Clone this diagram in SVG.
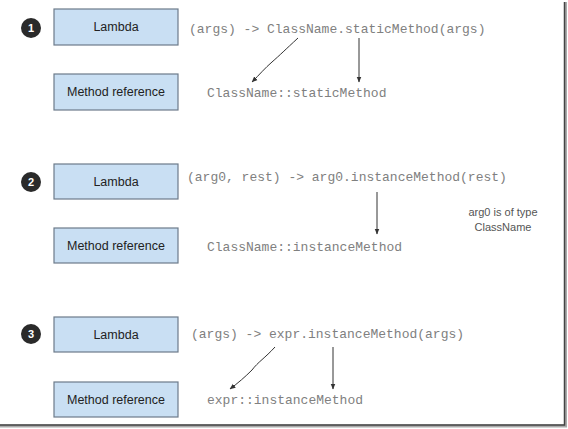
<svg xmlns="http://www.w3.org/2000/svg" width="568" height="429" viewBox="0 0 568 429">
<defs>
<style>
.box{fill:#c9dff3;stroke:#6d7b8a;stroke-width:1.2}
.lbl{font-family:"Liberation Sans",Arial,sans-serif;font-size:12.5px;fill:#222;text-anchor:middle}
.code{font-family:"Liberation Mono","Courier New",monospace;font-size:13px;fill:#808080}
.num{fill:#2a2a2a}
.numt{font-family:"Liberation Sans",Arial,sans-serif;font-size:11px;font-weight:bold;fill:#fff;text-anchor:middle}
.note{font-family:"Liberation Sans",Arial,sans-serif;font-size:11px;fill:#555;text-anchor:middle}
.conn{stroke:#333;stroke-width:1;fill:none;marker-end:url(#ah)}
</style>
<marker id="ah" viewBox="0 0 10 10" refX="9" refY="5" markerWidth="6" markerHeight="6" orient="auto-start-reverse" markerUnits="userSpaceOnUse">
<path d="M0,1 L10,5 L0,9 z" fill="#333"/>
</marker>
</defs>
<rect width="568" height="429" fill="#fff"/>
<path d="M565.5,2 V426 H0" stroke="#aaa" stroke-width="3" fill="none"/>
<path d="M564.5,2 V425 H0" stroke="#444" stroke-width="1.5" fill="none"/>

<g id="n1-num"><circle class="num" cx="31" cy="28" r="10"/><text class="numt" x="31" y="32">1</text></g>
<g id="n1-lambda"><rect class="box" x="54" y="9" width="124" height="36"/><text class="lbl" x="116" y="31">Lambda</text></g>
<g id="n1-mref"><rect class="box" x="54" y="74" width="124" height="36"/><text class="lbl" x="116" y="96">Method reference</text></g>
<g id="n1-lambda-code"><text class="code" x="189" y="33">(args) -&gt; ClassName.staticMethod(args)</text></g>
<g id="n1-mref-code"><text class="code" x="207" y="97">ClassName::staticMethod</text></g>

<g id="n2-num"><circle class="num" cx="31" cy="182" r="10"/><text class="numt" x="31" y="186">2</text></g>
<g id="n2-lambda"><rect class="box" x="54" y="164" width="124" height="35"/><text class="lbl" x="116" y="186">Lambda</text></g>
<g id="n2-mref"><rect class="box" x="54" y="228" width="124" height="35"/><text class="lbl" x="116" y="250">Method reference</text></g>
<g id="n2-lambda-code"><text class="code" x="187" y="181">(arg0, rest) -&gt; arg0.instanceMethod(rest)</text></g>
<g id="n2-mref-code"><text class="code" x="207" y="251">ClassName::instanceMethod</text></g>
<g id="n2-note"><text class="note" x="503" y="216">arg0 is of type</text><text class="note" x="503" y="231">ClassName</text></g>

<g id="n3-num"><circle class="num" cx="31" cy="334" r="10"/><text class="numt" x="31" y="338">3</text></g>
<g id="n3-lambda"><rect class="box" x="54" y="317" width="124" height="35"/><text class="lbl" x="116" y="339">Lambda</text></g>
<g id="n3-mref"><rect class="box" x="54" y="382" width="124" height="35"/><text class="lbl" x="116" y="404">Method reference</text></g>
<g id="n3-lambda-code"><text class="code" x="191" y="338">(args) -&gt; expr.instanceMethod(args)</text></g>
<g id="n3-mref-code"><text class="code" x="207" y="404">expr::instanceMethod</text></g>

<g id="connectors">
<path class="conn" d="M298,38 C285,50 280,55 272,62 C265,68 260,74 252,82"/>
<path class="conn" d="M359,38 V82"/>
<path class="conn" d="M377,192 V234"/>
<path class="conn" d="M275,347 C265,358 258,362 252,370 C245,377 238,383 230,389"/>
<path class="conn" d="M333,347 V389"/>
</g>
</svg>
